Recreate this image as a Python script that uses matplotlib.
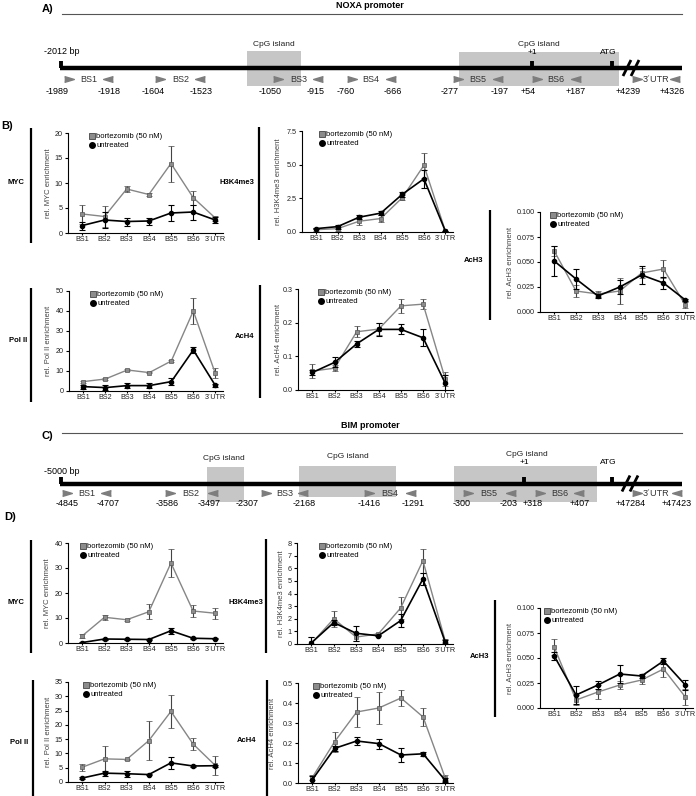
import matplotlib
matplotlib.use("Agg")
import matplotlib.pyplot as plt
from matplotlib.lines import Line2D
from matplotlib.patches import Rectangle
from matplotlib import font_manager

_names = {f.name for f in font_manager.fontManager.ttflist}
SANS = "Liberation Sans" if "Liberation Sans" in _names else "DejaVu Sans"
NARROW = "Liberation Sans Narrow" if "Liberation Sans Narrow" in _names else SANS
plt.rcParams["font.family"] = [SANS, "DejaVu Sans"]

# ------------------------------------------------------------------ data
sites = ["BS1", "BS2", "BS3", "BS4", "BS5", "BS6", "3´UTR"]
legend_labels = ["bortezomib (50 nM)", "untreated"]

# NOXA promoter (panel B)
noxa_myc_bort = [3.8, 3.3, 8.8, 7.7, 13.9, 7.1, 3.0]
noxa_myc_bort_err = [1.9, 2.1, 0.6, 0.3, 3.6, 1.4, 0.5]
noxa_myc_untr = [1.5, 2.6, 2.3, 2.4, 4.0, 4.2, 2.6]
noxa_myc_untr_err = [0.8, 1.6, 0.8, 0.7, 1.6, 1.5, 0.6]

noxa_h3k4_bort = [0.17, 0.25, 0.8, 1.0, 2.55, 4.95, 0.05]
noxa_h3k4_bort_err = [0.1, 0.15, 0.3, 0.25, 0.2, 0.95, 0.05]
noxa_h3k4_untr = [0.25, 0.4, 1.1, 1.4, 2.8, 3.95, 0.05]
noxa_h3k4_untr_err = [0.05, 0.15, 0.15, 0.15, 0.2, 0.65, 0.05]

noxa_pol2_bort = [4.7, 6.0, 10.5, 9.2, 15.0, 40.0, 8.8]
noxa_pol2_bort_err = [0.5, 0.5, 0.4, 0.4, 0.5, 6.3, 2.5]
noxa_pol2_untr = [2.2, 1.7, 2.7, 2.7, 4.7, 20.5, 2.8]
noxa_pol2_untr_err = [1.0, 1.2, 1.3, 1.3, 1.7, 1.5, 0.8]

noxa_ach4_bort = [0.056, 0.065, 0.173, 0.181, 0.25, 0.255, 0.033]
noxa_ach4_bort_err = [0.02, 0.008, 0.017, 0.017, 0.02, 0.015, 0.02]
noxa_ach4_untr = [0.052, 0.082, 0.137, 0.18, 0.18, 0.155, 0.02]
noxa_ach4_untr_err = [0.008, 0.015, 0.008, 0.02, 0.015, 0.025, 0.025]

noxa_ach3_bort = [0.061, 0.021, 0.018, 0.021, 0.039, 0.043, 0.007]
noxa_ach3_bort_err = [0.005, 0.006, 0.003, 0.013, 0.005, 0.009, 0.003]
noxa_ach3_untr = [0.051, 0.033, 0.016, 0.025, 0.037, 0.029, 0.012]
noxa_ach3_untr_err = [0.015, 0.01, 0.002, 0.007, 0.009, 0.006, 0.001]

# BIM promoter (panel D)
bim_myc_bort = [2.9, 10.3, 9.3, 12.5, 32.0, 12.8, 11.9]
bim_myc_bort_err = [0.8, 1.0, 0.3, 3.0, 5.5, 2.5, 2.3]
bim_myc_untr = [0.2, 1.6, 1.5, 1.4, 4.9, 1.9, 1.7]
bim_myc_untr_err = [0.1, 0.2, 0.1, 0.1, 1.3, 0.2, 0.2]

bim_h3k4_bort = [0.05, 2.0, 0.55, 0.8, 2.85, 6.6, 0.25]
bim_h3k4_bort_err = [0.5, 0.65, 0.3, 0.1, 0.9, 0.95, 0.15]
bim_h3k4_untr = [0.1, 1.7, 0.85, 0.65, 1.85, 5.15, 0.15]
bim_h3k4_untr_err = [0.45, 0.2, 0.6, 0.05, 0.5, 0.5, 0.2]

bim_pol2_bort = [5.2, 8.1, 7.9, 14.5, 24.7, 13.3, 5.8]
bim_pol2_bort_err = [1.2, 4.6, 0.2, 6.8, 5.7, 2.1, 3.4]
bim_pol2_untr = [1.4, 3.1, 2.9, 2.6, 6.7, 5.6, 5.7]
bim_pol2_untr_err = [0.2, 0.9, 1.0, 0.2, 2.0, 0.3, 0.3]

bim_ach4_bort = [0.028, 0.206, 0.355, 0.375, 0.425, 0.33, 0.025]
bim_ach4_bort_err = [0.012, 0.05, 0.077, 0.08, 0.04, 0.045, 0.015]
bim_ach4_untr = [0.017, 0.173, 0.21, 0.197, 0.14, 0.146, 0.013]
bim_ach4_untr_err = [0.02, 0.012, 0.018, 0.025, 0.033, 0.01, 0.01]

bim_ach3_bort = [0.061, 0.008, 0.016, 0.023, 0.028, 0.039, 0.011]
bim_ach3_bort_err = [0.008, 0.005, 0.007, 0.004, 0.004, 0.008, 0.008]
bim_ach3_untr = [0.052, 0.013, 0.023, 0.034, 0.032, 0.047, 0.023]
bim_ach3_untr_err = [0.004, 0.009, 0.004, 0.009, 0.002, 0.003, 0.005]

# promoter schematic labels
noxa_coords = ["-1989", "-1918", "-1604", "-1523", "-1050", "-915", "-760",
               "-666", "-277", "-197", "+54", "+187", "+4239", "+4326"]
bim_coords = ["-4845", "-4707", "-3586", "-3497", "-2307", "-2168", "-1416",
              "-1291", "-300", "-203", "+318", "+407", "+47284", "+47423"]

# ------------------------------------------------------------------ figure
W, H = 696, 796
fig = plt.figure(figsize=(W / 100, H / 100), dpi=100)
fig.patch.set_facecolor("white")

ov = fig.add_axes([0, 0, 1, 1])
ov.set_xlim(0, W)
ov.set_ylim(H, 0)
ov.axis("off")

BOX_C = "#c6c6c6"
ARR_C = "#7d7d7d"
TRI_R = [(-1, -0.6), (1, 0), (-1, 0.6)]
TRI_L = [(1, -0.6), (-1, 0), (1, 0.6)]


def diagram(letter, letter_y, title, title_y, rule_y, bp_label, bp_y, line_y,
            boxes, cpg, plus1, atg, fwd_x, rev_x, site_x, arrow_y,
            coords, num_x, num_y, brk_x):
    ov.text(42, letter_y, letter, fontsize=8, fontweight="bold", ha="left", va="center")
    ov.text(370, title_y, title, fontsize=6.5, fontweight="bold", ha="center", va="center")
    ov.plot([62, 682], [rule_y, rule_y], color="#555555", lw=0.8)
    for (x0, x1, y0, y1) in boxes:
        ov.add_patch(Rectangle((x0, y0), x1 - x0, y1 - y0, facecolor=BOX_C,
                               edgecolor="none", zorder=1))
    for (cx, cy) in cpg:
        ov.text(cx, cy, "CpG island", fontsize=6, ha="center", va="center", color="#222222")
    ov.text(44, bp_y, bp_label, fontsize=6.5, family=NARROW, ha="left", va="center")
    ov.plot([60, 682], [line_y, line_y], color="black", lw=3.2, zorder=3,
            solid_capstyle="butt")
    for tx in (61, plus1[0], atg[0]):
        ov.plot([tx, tx], [line_y - 7, line_y], color="black", lw=2.8, zorder=3,
                solid_capstyle="butt")
    ov.text(plus1[0], plus1[1], "+1", fontsize=6, ha="center", va="center")
    ov.text(atg[0] - 4, atg[1], "ATG", fontsize=6, ha="center", va="center")
    for bx in brk_x:
        ov.plot([bx - 4, bx + 4], [line_y + 8, line_y - 8], color="black", lw=2.0,
                zorder=4, solid_capstyle="butt")
    ov.plot(fwd_x, [arrow_y] * len(fwd_x), ls="none", marker=TRI_R, ms=7,
            color=ARR_C, zorder=4)
    ov.plot(rev_x, [arrow_y] * len(rev_x), ls="none", marker=TRI_L, ms=7,
            color=ARR_C, zorder=4)
    for name, sx in zip(sites, site_x):
        ov.text(sx, arrow_y, name, fontsize=6.5, family=NARROW, ha="center",
                va="center", color="#333333", zorder=4)
    for lab, nx in zip(coords, num_x):
        ov.text(nx, num_y, lab, fontsize=6.5, family=NARROW, ha="center",
                va="center", zorder=4)


diagram("A)", 9, "NOXA promoter", 6, 13.5, "-2012 bp", 52, 68,
        [(247, 301, 51, 86), (459, 619, 52, 86)],
        [(274, 44), (539, 44)], (532, 53), (612, 52),
        [69, 160, 278, 352, 458, 537, 637], [108, 200, 318, 391, 498, 576, 675],
        [89, 181, 299, 371, 478, 556, 656], 79,
        noxa_coords, [57, 109, 153, 201, 270, 316, 346, 393, 450, 500, 528, 576, 628, 672],
        91, [627, 635])

diagram("C)", 436, "BIM promoter", 425, 433, "-5000 bp", 472, 483.5,
        [(207, 244, 467, 502), (299, 396, 466, 497), (454, 597, 466, 502)],
        [(224, 458), (348, 456), (527, 454)], (524, 463), (612, 463),
        [67, 170, 266, 369, 468, 540, 637], [106, 213, 303, 411, 511, 579, 677],
        [87, 191, 285, 390, 489, 560, 656], 493,
        bim_coords, [67, 108, 167, 209, 247, 304, 369, 413, 462, 509, 533, 580, 631, 677],
        503, [626, 634])

ov.text(1, 126, "B)", fontsize=8, fontweight="bold", ha="left", va="center")
ov.text(4, 517, "D)", fontsize=8, fontweight="bold", ha="left", va="center")

# row labels with vertical bars: (label, label_x, label_y, bar_x, bar_y0, bar_y1)
rows = [
    ("MYC", 16, 183, 31, 128, 243),
    ("H3K4me3", 237, 182, 259, 127, 240),
    ("Pol II", 18, 341, 31, 288, 402),
    ("AcH4", 245, 337, 260, 285, 398),
    ("AcH3", 474, 261, 490, 210, 320),
    ("MYC", 16, 603, 31, 540, 653),
    ("H3K4me3", 246, 602, 266, 539, 653),
    ("Pol II", 19, 742, 33, 680, 796),
    ("AcH4", 247, 740, 267, 680, 796),
    ("AcH3", 480, 657, 495, 600, 717),
]
for lab, lx, ly, bx, by0, by1 in rows:
    ov.text(lx, ly, lab, fontsize=5.5, fontweight="bold", ha="center", va="center")
    ov.plot([bx, bx], [by0, by1], color="black", lw=1.6, solid_capstyle="butt")


def chart(L, R, T, B, bort, bort_err, untr, untr_err, yticks, yticklabels,
          ylabel, ylab_center, leg_dx):
    ax = fig.add_axes([L / W, 1 - B / H, (R - L) / W, (B - T) / H])
    ax.set_facecolor("none")
    x = list(range(len(sites)))
    ax.errorbar(x, bort, yerr=bort_err, color="#868686", lw=1.0, marker="s", ms=3,
                mfc="#8c8c8c", mec="#555555", mew=0.5, ecolor="#444444",
                elinewidth=0.8, capsize=2, capthick=0.8, zorder=2)
    ax.errorbar(x, untr, yerr=untr_err, color="black", lw=1.2, marker="o", ms=3,
                ecolor="black", elinewidth=0.8, capsize=2, capthick=0.8, zorder=3)
    ax.set_xlim(-0.65, 6.35)
    ax.set_ylim(yticks[0], yticks[-1])
    ax.set_xticks(x)
    ax.set_xticklabels(sites)
    ax.set_yticks(yticks)
    ax.set_yticklabels(yticklabels)
    for s in ("top", "right"):
        ax.spines[s].set_visible(False)
    for s in ("left", "bottom"):
        ax.spines[s].set_linewidth(0.8)
    ax.tick_params(axis="y", labelsize=5.2, length=2.5, width=0.8, pad=1.2,
                   labelcolor="#222222")
    ax.tick_params(axis="x", labelsize=5.2, length=1.5, width=0.8, pad=1.0,
                   labelcolor="#222222")
    ax.set_ylabel(ylabel, fontsize=5.5, color="#444444")
    ax.yaxis.set_label_coords((ylab_center + 4) / (R - L), 0.5)
    h1 = Line2D([], [], ls="none", marker="s", ms=4, mfc="#8c8c8c", mec="#444444", mew=0.6)
    h2 = Line2D([], [], ls="none", marker="o", ms=4, color="black")
    ax.legend([h1, h2], legend_labels, loc="upper left",
              bbox_to_anchor=((leg_dx - 2.5) / (R - L), 1.0), frameon=False,
              fontsize=5.5, handlelength=0.6, handletextpad=0.3, labelspacing=0.2,
              borderpad=0, borderaxespad=0)
    return ax


t20 = [0, 5, 10, 15, 20]
t75 = [0.0, 2.5, 5.0, 7.5]
t50 = [0, 10, 20, 30, 40, 50]
t03 = [0.0, 0.1, 0.2, 0.3]
tac3 = [0.0, 0.025, 0.05, 0.075, 0.1]
t40 = [0, 10, 20, 30, 40]
t8 = [0, 1, 2, 3, 4, 5, 6, 7, 8]
t35 = [0, 5, 10, 15, 20, 25, 30, 35]
t05 = [0.0, 0.1, 0.2, 0.3, 0.4, 0.5]

chart(68, 223, 133, 233, noxa_myc_bort, noxa_myc_bort_err, noxa_myc_untr, noxa_myc_untr_err,
      t20, [str(v) for v in t20], "rel. MYC enrichment", -20, 24)
chart(302, 453, 131, 232, noxa_h3k4_bort, noxa_h3k4_bort_err, noxa_h3k4_untr, noxa_h3k4_untr_err,
      t75, ["0.0", "2.5", "5.0", "7.5"], "rel. H3K4me3 enrichment", -24, 20)
chart(69, 223, 291, 391, noxa_pol2_bort, noxa_pol2_bort_err, noxa_pol2_untr, noxa_pol2_untr_err,
      t50, [str(v) for v in t50], "rel. Pol II enrichment", -21, 24)
chart(298, 453, 289, 390, noxa_ach4_bort, noxa_ach4_bort_err, noxa_ach4_untr, noxa_ach4_untr_err,
      t03, ["0.0", "0.1", "0.2", "0.3"], "rel. AcH4 enrichment", -20, 23)
chart(540, 693, 212, 312, noxa_ach3_bort, noxa_ach3_bort_err, noxa_ach3_untr, noxa_ach3_untr_err,
      tac3, ["0.000", "0.025", "0.050", "0.075", "0.100"], "rel. AcH3 enrichment", -30, 13)

chart(68, 223, 543, 643, bim_myc_bort, bim_myc_bort_err, bim_myc_untr, bim_myc_untr_err,
      t40, [str(v) for v in t40], "rel. MYC enrichment", -21, 15)
chart(297, 453, 543, 644, bim_h3k4_bort, bim_h3k4_bort_err, bim_h3k4_untr, bim_h3k4_untr_err,
      t8, [str(v) for v in t8], "rel. H3K4me3 enrichment", -16, 25)
chart(68, 223, 682, 782, bim_pol2_bort, bim_pol2_bort_err, bim_pol2_untr, bim_pol2_untr_err,
      t35, [str(v) for v in t35], "rel. Pol II enrichment", -20, 18)
chart(298, 453, 683, 783, bim_ach4_bort, bim_ach4_bort_err, bim_ach4_untr, bim_ach4_untr_err,
      t05, ["0.0", "0.1", "0.2", "0.3", "0.4", "0.5"], "rel. AcH4 enrichment", -26, 18)
chart(540, 693, 608, 708, bim_ach3_bort, bim_ach3_bort_err, bim_ach3_untr, bim_ach3_untr_err,
      tac3, ["0.000", "0.025", "0.050", "0.075", "0.100"], "rel. AcH3 enrichment", -30, 7)

fig.savefig("out.png", dpi=100)
